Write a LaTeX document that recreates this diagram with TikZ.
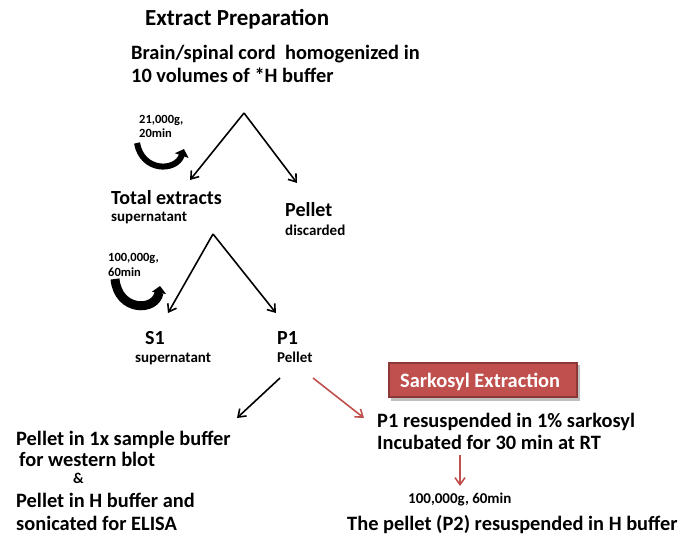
\documentclass[tikz,border=0pt]{standalone}
\usepackage{fontspec}
\setmainfont{Carlito}
\usetikzlibrary{arrows.meta}

\definecolor{sarkred}{RGB}{192,80,77}
\definecolor{sarkedge}{RGB}{140,56,54}

\tikzset{
 title/.style={anchor=base west,inner sep=0pt,font=\bfseries\fontsize{23}{27}\selectfont},
 head/.style={anchor=base west,inner sep=0pt,font=\bfseries\fontsize{20}{24}\selectfont},
 big/.style={anchor=base west,inner sep=0pt,font=\bfseries\fontsize{20.4}{24}\selectfont},
 small/.style={anchor=base west,inner sep=0pt,font=\bfseries\fontsize{15}{18}\selectfont},
 tiny/.style={anchor=base west,inner sep=0pt,font=\bfseries\fontsize{12.5}{15}\selectfont},
 spin/.style={line width=#1,-{Triangle[length=7pt,width=14pt]}},
 flow/.style={line width=1.6pt,-{Straight Barb[length=7pt,width=10pt]}},
 redflow/.style={flow,sarkred}
}

\begin{document}
\begin{tikzpicture}[x=1pt,y=-1pt]
\useasboundingbox (0,0) rectangle (695,537);
 % extract preparation
 \node[title] (prep) at (145,26) {Extract Preparation};
 \node[big] (brain) at (131,60) {Brain/spinal cord\ \ homogenized in};
 \node[big] (vol) at (131,83) {10 volumes of *H buffer};
 \node[tiny] (spinA) at (139,124) {21,000g,};
 \node[tiny] (timeA) at (139,138) {20min};
 \draw[spin=6pt] (137,143) .. controls (142,172) and (176,172) .. (184,149);
 \coordinate (topA) at (244,113);
 \coordinate (tipA) at (190,180);
 \coordinate (tipB) at (297,183);
 \draw[flow] (topA) -- (tipA);
 \draw[flow] (topA) -- (tipB);
 \node[head] (total) at (111,205) {Total extracts};
 \node[small] (superA) at (111,222) {supernatant};
 \node[head] (pelA) at (285,216) {Pellet};
 \node[small] (disc) at (285,235) {discarded};
 % second spin
 \node[tiny] (spinB) at (108,261) {100,000g,};
 \node[tiny] (timeB) at (108,276) {60min};
 \draw[spin=9pt] (115,279) .. controls (118,312) and (156,312) .. (160,286);
 \coordinate (topB) at (213,234);
 \coordinate (tipC) at (168,313);
 \coordinate (tipD) at (276,313);
 \draw[flow] (topB) -- (tipC);
 \draw[flow] (topB) -- (tipD);
 \node[head] (s1) at (145,344) {S1};
 \node[small] (superB) at (135,362) {supernatant};
 \node[head] (p1) at (277,344) {P1};
 \node[small] (pelB) at (277,362) {Pellet};
 % split of P1
 \coordinate (outL) at (280,378);
 \coordinate (tipE) at (237,418);
 \coordinate (outR) at (313,378);
 \coordinate (tipF) at (364,418);
 \draw[flow] (outL) -- (tipE);
 \draw[redflow] (outR) -- (tipF);
 \node[big] (wb1) at (16,445) {Pellet in 1x sample buffer};
 \node[big] (wb2) at (19,466) {for western blot};
 \node[small] (amp) at (73,483) {\&};
 \node[big] (el1) at (16,507) {Pellet in H buffer and};
 \node[big] (el2) at (16,530) {sonicated for ELISA};
 % sarkosyl extraction
 \fill[black!25] (391,365) rectangle (580,401);
 \draw[sarkedge,line width=1.5pt,fill=sarkred] (389,363) rectangle (577,397);
 \node[big,white] (sark) at (400,387) {Sarkosyl Extraction};
 \node[big] (res1) at (377,427) {P1 resuspended in 1\% sarkosyl};
 \node[big] (res2) at (377,449) {Incubated for 30 min at RT};
 \coordinate (outS) at (460,455);
 \coordinate (tipS) at (460,486);
 \draw[redflow] (outS) -- (tipS);
 \node[small] (spinC) at (408,503) {100,000g, 60min};
 \node[big] (p2) at (347,530) {The pellet (P2) resuspended in H buffer};
\end{tikzpicture}
\end{document}
